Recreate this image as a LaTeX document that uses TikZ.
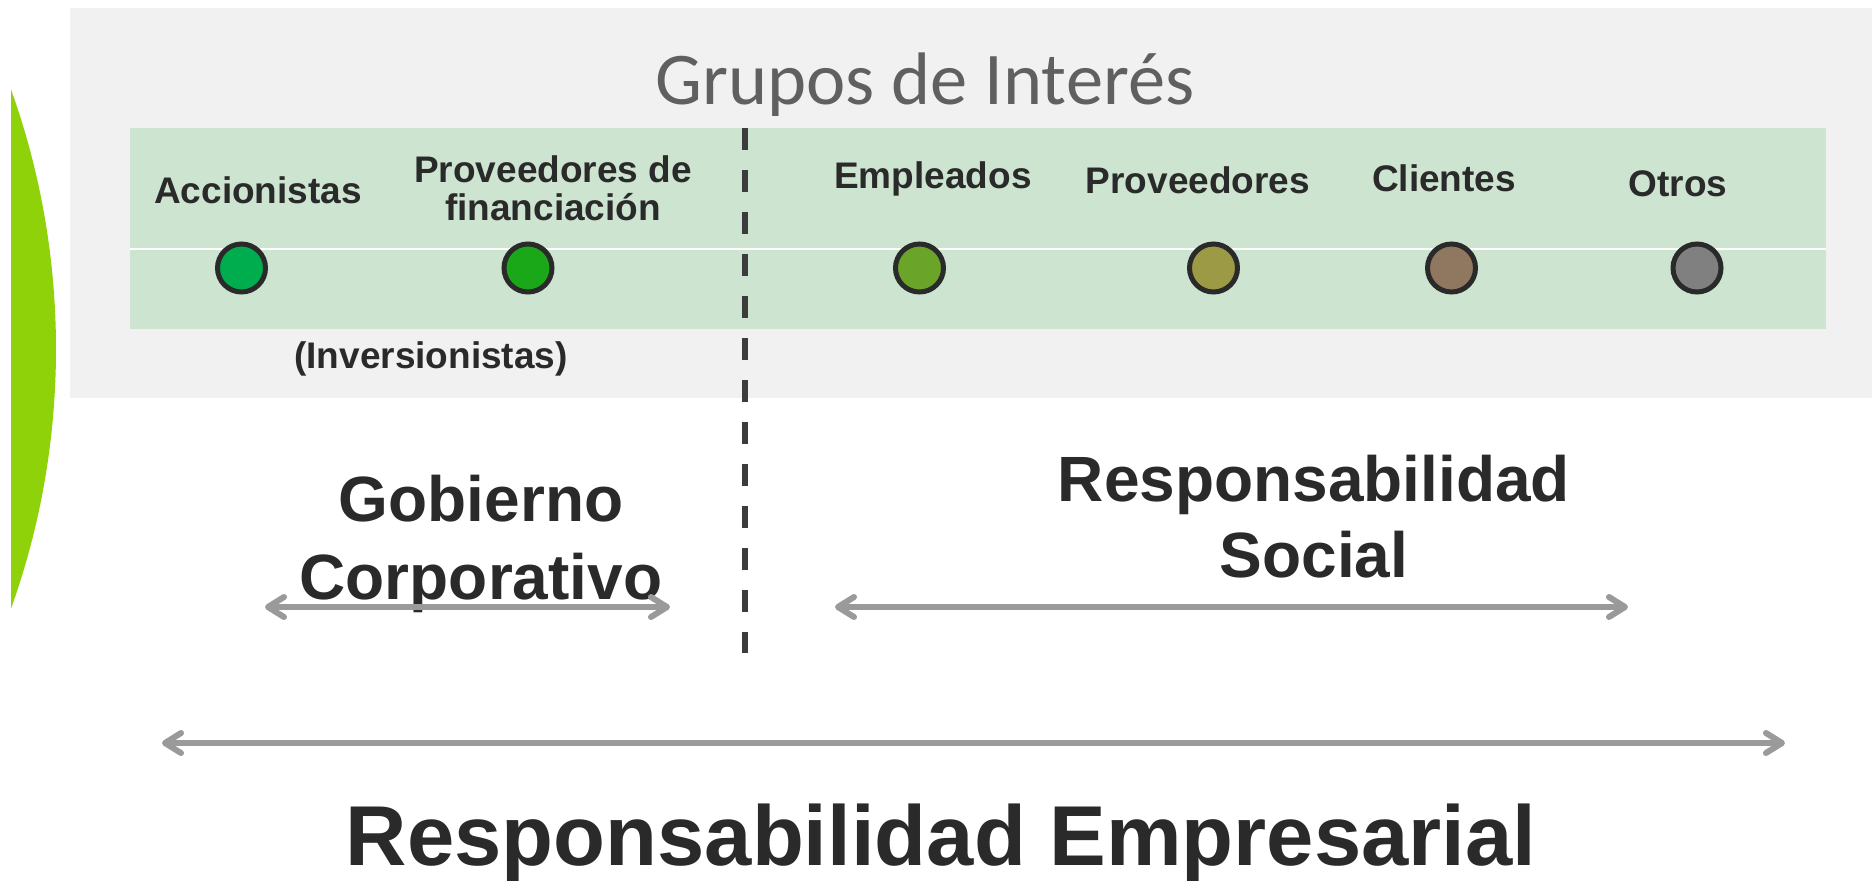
\documentclass[tikz,border=0pt]{standalone}
\usepackage{fontspec}
\setmainfont{Liberation Sans}
\newfontfamily\carlito{Carlito}
\usetikzlibrary{arrows.meta}

\definecolor{fondo}{HTML}{F1F1F1}
\definecolor{banda}{HTML}{CCE4D0}
\definecolor{hoja}{HTML}{8FD20A}
\definecolor{texto}{HTML}{2A2A2A}
\definecolor{titulo}{HTML}{606060}
\definecolor{borde}{HTML}{2A2A2A}
\definecolor{flecha}{HTML}{9A9A9A}
\definecolor{divisor}{HTML}{3C3C3C}
\definecolor{cAcc}{HTML}{00AD4E}
\definecolor{cFin}{HTML}{1AA818}
\definecolor{cEmp}{HTML}{6AA428}
\definecolor{cProv}{HTML}{9C9A44}
\definecolor{cCli}{HTML}{907860}
\definecolor{cOtr}{HTML}{808080}

\begin{document}
\begin{tikzpicture}
[x=0.5pt,y=-0.5pt,
 grupo/.style={circle,draw=borde,line width=2.5pt,minimum size=24pt,inner sep=0pt},
 etiq/.style={font=\bfseries\fontsize{18.5}{19}\selectfont,text=texto,align=center,anchor=base,inner sep=0pt},
 area/.style={font=\bfseries\fontsize{32}{39}\selectfont,text=texto,align=center,anchor=base,inner sep=0pt},
 rango/.style={draw=flecha,line width=3pt,>={Straight Barb[length=8pt,width=10pt,round]},<->}]
\useasboundingbox (0,0) rectangle (1876,880);

% fondo y hoja verde
\begin{scope}
\clip (11,0) rectangle (200,880);
\fill[hoja] (-712,349) circle (768);
\end{scope}
\fill[fondo] (70,8) rectangle (1872,398);
\fill[banda] (130,128) rectangle (1826,329);
\draw[white,line width=0.6pt] (130,249) -- (1826,249);

\node[font=\carlito\fontsize{37.2}{40}\selectfont,text=titulo,anchor=base,inner sep=0pt] (tit) at (925,104) {Grupos de Interés};

% grupos de interes (base = ultima linea)
\node[etiq] (lAcc) at (258,203) {Accionistas};
\node[etiq] (lFin) at (553,220) {Proveedores de\\financiación};
\node[etiq] (lEmp) at (933,188) {Empleados};
\node[etiq] (lProv) at (1198,193) {Proveedores};
\node[etiq] (lCli) at (1444,191) {Clientes};
\node[etiq] (lOtr) at (1678,196) {Otros};
\node[etiq] (lInv) at (431,368) {(Inversionistas)};

\node[grupo,fill=cAcc] (acc) at (241.5,268) {};
\node[grupo,fill=cFin] (fin) at (528,268) {};
\node[grupo,fill=cEmp] (emp) at (919.5,268) {};
\node[grupo,fill=cProv] (prov) at (1213.5,268) {};
\node[grupo,fill=cCli] (cli) at (1451.5,268) {};
\node[grupo,fill=cOtr] (otr) at (1697,268) {};

% divisor
\coordinate (dA) at (745,128);
\coordinate (dB) at (745,653);
\draw[divisor,line width=3pt,dash pattern=on 11pt off 10pt] (dA) -- (dB);

% areas
\node[area] (gob) at (481,599) {Gobierno\\Corporativo};
\node[area,font=\bfseries\fontsize{32}{38}\selectfont] (soc) at (1314,577) {Responsabilidad\\Social};
\node[area,font=\bfseries\fontsize{42.5}{48}\selectfont] (emprs) at (941,865) {Responsabilidad Empresarial};

\coordinate (gI) at (265,607);
\coordinate (gD) at (670,607);
\coordinate (sI) at (835,607);
\coordinate (sD) at (1628,607);
\coordinate (eI) at (162,743);
\coordinate (eD) at (1785,743);
\draw[rango] (gI) -- (gD);
\draw[rango] (sI) -- (sD);
\draw[rango] (eI) -- (eD);
\end{tikzpicture}
\end{document}
